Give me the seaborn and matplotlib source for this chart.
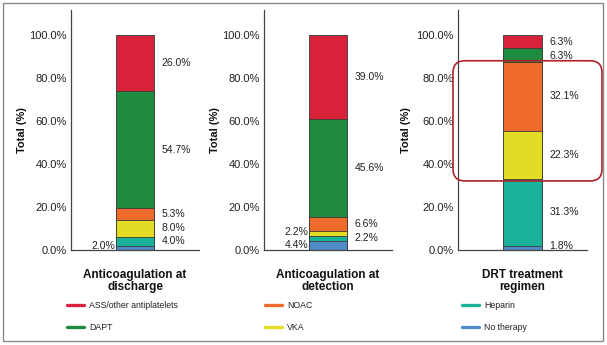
import numpy as np
import pandas as pd
import matplotlib
matplotlib.use("Agg")
import matplotlib.pyplot as plt
import seaborn as sns
from matplotlib.patches import FancyBboxPatch, Rectangle
from matplotlib.lines import Line2D

# Therapy categories, listed from the top of each stack downwards
therapies = ["ASS/other antiplatelets", "DAPT", "NOAC", "VKA", "Heparin", "No therapy"]
therapy_colors = ["#d7223a", "#1f8b3f", "#ee6b2c", "#e4dc24", "#19b39c", "#4f8cc8"]

panel_titles = ["Anticoagulation at\ndischarge",
                "Anticoagulation at\ndetection",
                "DRT treatment\nregimen"]

# Share of patients (%) per therapy, same order as `therapies`
discharge = [26.0, 54.7, 5.3, 8.0, 4.0, 2.0]
detection = [39.0, 45.6, 6.6, 2.2, 2.2, 4.4]
drt_regimen = [6.3, 6.3, 32.1, 22.3, 31.3, 1.8]

y_ticks = [0, 20, 40, 60, 80, 100]

sns.set_style("white")
plt.rcParams["font.family"] = ["Liberation Sans", "DejaVu Sans"]

W, H = 607, 345
fig = plt.figure(figsize=(W / 100, H / 100), dpi=100)

# axes boxes in pixels: (left, right)
axes_px = [(71, 199), (264, 392), (458, 587)]
ax_bottom, ax_top = 250, 10
y_max = 111.6

# labels drawn on the left-hand side of the bar (by therapy)
left_side = [{"No therapy"}, {"No therapy", "VKA"}, set()]
ylabel_pad = [2, 2, 4]


def spread(ys, gap, lo, hi):
    ys = np.maximum(np.asarray(ys, float), lo)
    order = np.argsort(ys)
    out = ys.copy()
    prev = -np.inf
    for i in order:
        out[i] = max(out[i], prev + gap)
        prev = out[i]
    nxt = np.inf
    for i in order[::-1]:
        out[i] = min(out[i], hi, nxt - gap)
        nxt = out[i]
    return out


def draw_panel(ax, values, title, lefts, ypad):
    df = pd.DataFrame({"therapy": therapies, "share": values, "color": therapy_colors})
    df["top"] = df["share"][::-1].cumsum()[::-1]
    df["mid"] = df["top"] - df["share"] / 2
    # tallest cumulative bar first, each following one covers the lower part
    for _, row in df.iterrows():
        sns.barplot(x=[title], y=[row["top"]], color=row["color"], width=0.3,
                    saturation=1, edgecolor="#3a3a3a", linewidth=0.6, ax=ax)

    for side, sel in (("right", ~df["therapy"].isin(lefts)), ("left", df["therapy"].isin(lefts))):
        sub = df[sel]
        if sub.empty:
            continue
        ys = spread(sub["mid"].values, 6.3, 2.0, 96.5)
        for (_, row), y in zip(sub.iterrows(), ys):
            if side == "right":
                ax.text(0.21, y, f"{row['share']:.1f}%", ha="left", va="center",
                        fontsize=7.5, color="#222222")
            else:
                ax.text(-0.155, y, f"{row['share']:.1f}%", ha="right", va="center",
                        fontsize=7.5, color="#222222")

    ax.set_xlim(-0.5, 0.5)
    ax.set_ylim(0, y_max)
    ax.set_yticks(y_ticks)
    ax.set_yticklabels([f"{t:.1f}%" for t in y_ticks])
    ax.set_xticks([])
    ax.tick_params(axis="y", length=0, pad=3, labelsize=8, labelcolor="#222222")
    ax.set_xlabel(title, fontsize=8.5, fontweight="bold", labelpad=14, linespacing=0.95,
                  color="#111111")
    ax.set_ylabel("Total (%)", fontsize=8, fontweight="bold", labelpad=ypad, color="#111111")
    sns.despine(ax=ax)
    for s in ("left", "bottom"):
        ax.spines[s].set_color("#444444")
        ax.spines[s].set_linewidth(0.9)
    return df


axes = []
frames = []
for (l, r), vals, title, lefts, ypad in zip(axes_px, [discharge, detection, drt_regimen],
                                            panel_titles, left_side, ylabel_pad):
    ax = fig.add_axes([l / W, 1 - ax_bottom / H, (r - l) / W, (ax_bottom - ax_top) / H])
    frames.append(draw_panel(ax, vals, title, lefts, ypad))
    axes.append(ax)

# legend: three columns of two entries
handles = [Line2D([0], [0], color=c, lw=2.4) for c in therapy_colors]
col_x = [67, 265, 462]
for k, x in enumerate(col_x):
    leg = fig.legend(handles[2 * k:2 * k + 2], therapies[2 * k:2 * k + 2],
                     loc="upper left", bbox_to_anchor=(x / W, 1 - 301 / H),
                     frameon=False, fontsize=6.3, borderpad=0, borderaxespad=0,
                     handlelength=1.9, handletextpad=0.6, labelspacing=1.45)
    for t in leg.get_texts():
        t.set_color("#222222")

# highlight box around the NOAC + VKA part of the DRT regimen bar
drt = frames[2].set_index("therapy")
box_lo = drt.loc["VKA", "top"] - drt.loc["VKA", "share"] - 1.0
box_hi = drt.loc["NOAC", "top"] + 0.5
ax3 = axes[2]
to_fig = ax3.transData + fig.transFigure.inverted()
(_, y0), (_, y1) = to_fig.transform([(0, box_lo), (0, box_hi)])
x0, x1 = 453 / W, 602 / W
# work in inches so the rounded corners stay circular
fw, fh = fig.get_size_inches()
fig.add_artist(FancyBboxPatch((x0 * fw, y0 * fh), (x1 - x0) * fw, (y1 - y0) * fh,
                              boxstyle="round,pad=0,rounding_size=0.12",
                              transform=fig.dpi_scale_trans, fill=False,
                              edgecolor="#b0222c", linewidth=1.2))

# outer frame
fig.add_artist(Rectangle((3 / W, 4 / H), 600 / W, 338 / H, transform=fig.transFigure,
                         fill=False, edgecolor="#8a8a8a", linewidth=1.0))

fig.savefig("out.png", dpi=100)
